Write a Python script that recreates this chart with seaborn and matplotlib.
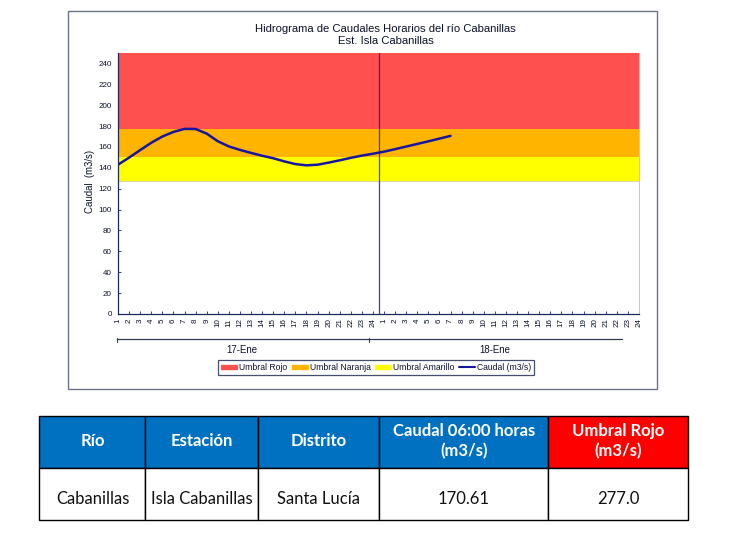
import numpy as np
import matplotlib
matplotlib.use('Agg')
import matplotlib.pyplot as plt
from matplotlib.patches import Patch, Rectangle
import seaborn as sns

# chart values
hour_labels = [str(h) for h in range(1, 25)] * 2
caudal = [143, 149.8, 157, 164, 170, 174.4, 177.3, 177.2, 172.8, 165.5, 160.5, 157.2, 154.3, 151.6, 149.2, 146.2,
          143.6, 142.4, 143, 145, 147.2, 149.6, 151.7, 153.5, 155.5, 157.9, 160.4, 162.9, 165.4, 168, 170.61]
umbral_rojo = 250
umbral_naranja = 177
umbral_amarillo = 150
umbral_base = 127
y_ticks = list(range(0, 260, 20))

# table under the chart
table_header = ['Río', 'Estación', 'Distrito', 'Caudal 06:00 horas\n(m3/s)', 'Umbral Rojo\n(m3/s)']
table_row = ['Cabanillas', 'Isla Cabanillas', 'Santa Lucía', '170.61', '277.0']
table_header_colors = ['#0070c0', '#0070c0', '#0070c0', '#0070c0', '#ff0000']
col_edges = [39.5, 145.5, 258.5, 379.5, 548.5, 688.5]
row_edges = [415.5, 467.5, 519.5]

COL_NAVY = '#1616a0'
COL_AXIS = '#1c2a5e'
COL_TEXT = '#0c1228'

sns.set_theme(style='white')
plt.rcParams['font.family'] = ['Liberation Sans', 'DejaVu Sans']

W, H = 737, 533
fig = plt.figure(figsize=(W / 100, H / 100), dpi=100)

# overlay in pixel coordinates for frame, table and the second level axis
bg = fig.add_axes([0, 0, 1, 1], zorder=0)
bg.set_xlim(0, W)
bg.set_ylim(H, 0)
bg.axis('off')
bg.add_patch(Rectangle((68.5, 10.5), 589, 378, fc='white', ec='#6d7488', lw=1))

ax = fig.add_axes([118 / W, 1 - 314 / H, 521 / W, 261 / H], zorder=1)
x = np.arange(len(hour_labels))
pos = np.arange(len(caudal))

ax.fill_between(x, umbral_naranja, umbral_rojo, color='#ff5050', lw=0)
ax.fill_between(x, umbral_amarillo, umbral_naranja, color='#ffb400', lw=0)
ax.fill_between(x, umbral_base, umbral_amarillo, color='#ffff00', lw=0)
ax.axhline(umbral_base, color='#d8d8a0', lw=0.8)
sns.lineplot(x=pos, y=caudal, ax=ax, color=COL_NAVY, lw=1.8, legend=False)
ax.axvline(23.5, color=COL_AXIS, lw=0.9, alpha=0.85)

ax.set_xlim(0, len(hour_labels) - 1)
ax.set_ylim(0, umbral_rojo)
ax.set_yticks(y_ticks)
ax.set_xticks(x)
ax.set_xticklabels(hour_labels, rotation=90)
ax.tick_params(axis='both', direction='in', length=2.2, width=0.6, color=COL_AXIS, labelsize=5.8,
               labelcolor=COL_TEXT, left=True, bottom=True)
ax.tick_params(axis='y', pad=4.5)
ax.tick_params(axis='x', pad=3)
ax.set_ylabel('Caudal  (m3/s)', fontsize=6.9, color=COL_TEXT)
ax.yaxis.set_label_coords(-0.044, 0.508)
for side in ['left', 'bottom']:
    ax.spines[side].set_color(COL_AXIS)
    ax.spines[side].set_linewidth(0.9)
ax.spines['top'].set_visible(False)
ax.spines['right'].set_color('#c8c8c8')
ax.spines['right'].set_linewidth(0.7)

bg.text(385.5, 29, 'Hidrograma de Caudales Horarios del río Cabanillas', ha='center', va='center',
        fontsize=8.1, color=COL_TEXT)
bg.text(385.5, 41, 'Est. Isla Cabanillas', ha='center', va='center', fontsize=8.1, color=COL_TEXT)

# day axis below the hours
bg.plot([117, 622], [339, 339], color='#333a55', lw=0.9)
for tx in [117, 369]:
    bg.plot([tx, tx], [338, 342], color='#333a55', lw=0.8)
bg.text(242, 350, '17-Ene', ha='center', va='center', fontsize=6.9, color=COL_TEXT)
bg.text(495, 350, '18-Ene', ha='center', va='center', fontsize=6.9, color=COL_TEXT)

handles = [Patch(color='#ff5050', label='Umbral Rojo'),
           Patch(color='#ffb400', label='Umbral Naranja'),
           Patch(color='#ffff00', label='Umbral Amarillo'),
           plt.Line2D([], [], color=COL_NAVY, lw=1.5, label='Caudal (m3/s)')]
leg = fig.legend(handles=handles, ncol=4, loc='center', bbox_to_anchor=(376 / W, 1 - 367.5 / H),
                 fontsize=6.2, frameon=True, fancybox=False, edgecolor='#46506e', framealpha=1,
                 handlelength=1.9, handleheight=0.4, handletextpad=0.2, columnspacing=0.5,
                 borderpad=0.35, labelcolor=COL_TEXT)
leg.get_frame().set_linewidth(0.9)

# table
for i in range(len(table_header)):
    x0, x1 = col_edges[i], col_edges[i + 1]
    bg.add_patch(Rectangle((x0, row_edges[0]), x1 - x0, row_edges[1] - row_edges[0],
                           fc=table_header_colors[i], ec='black', lw=1))
    bg.add_patch(Rectangle((x0, row_edges[1]), x1 - x0, row_edges[2] - row_edges[1],
                           fc='white', ec='black', lw=1))
    bg.text((x0 + x1) / 2, 441.5, table_header[i], ha='center', va='center',
            family='Lato', fontweight='bold', fontsize=12, color='white', linespacing=1.3)
    bg.text((x0 + x1) / 2, 499.5, table_row[i], ha='center', va='center',
            family='Lato', fontsize=12, color='#111111')

fig.savefig('out.png', dpi=100)
